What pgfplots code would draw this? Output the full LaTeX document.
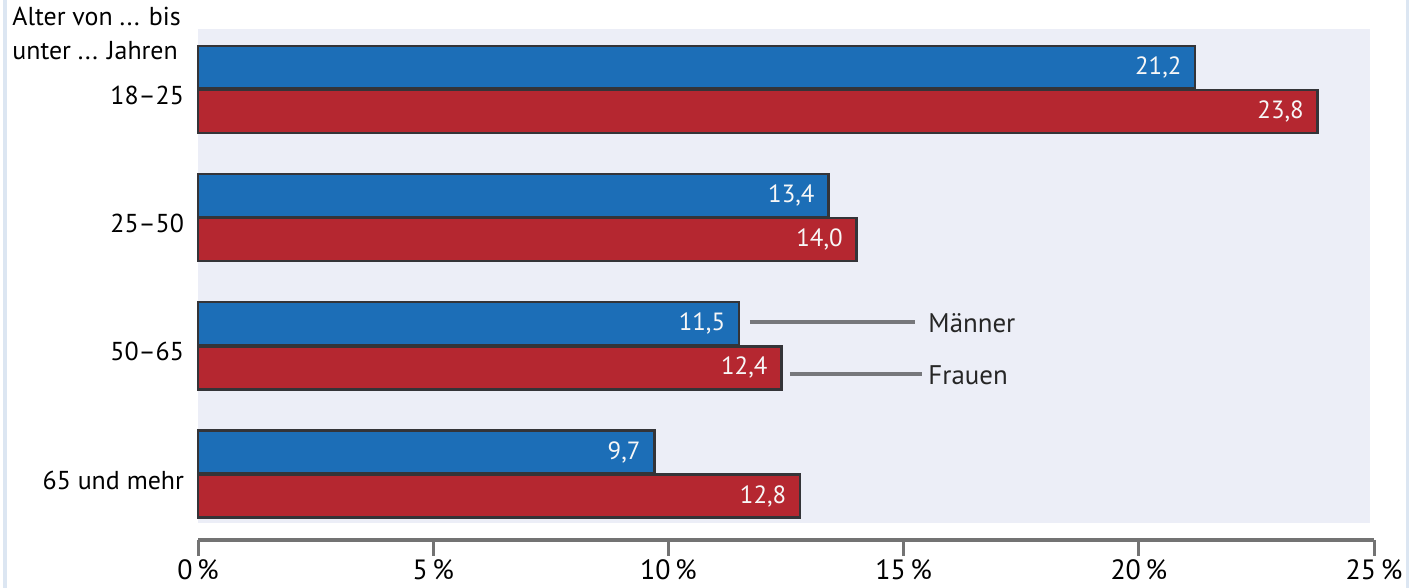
\documentclass[border=0pt]{standalone}
\usepackage{pgfplots}
\pgfplotsset{compat=1.18}
\usepackage{fontspec}
\setmainfont{PT Sans}
\definecolor{mblue}{RGB}{28,110,183}
\definecolor{fred}{RGB}{181,39,48}
\definecolor{bgl}{RGB}{236,238,247}
\definecolor{axg}{RGB}{115,115,115}
\definecolor{lead}{RGB}{118,119,123}
\definecolor{edge}{RGB}{52,52,56}
\definecolor{framec}{RGB}{220,230,242}
\begin{document}
\begin{tikzpicture}[x=0.5bp,y=0.5bp]
\useasboundingbox (0,0) rectangle (1411,588);
\draw[framec, line width=1.5bp] (5,0) -- (5,588);
\draw[framec, line width=1.5bp] (1407,0) -- (1407,588);
\node[anchor=north west, align=left, font=\fontsize{13}{17}\selectfont, inner sep=0] at (12,581) {Alter von ... bis\\unter ... Jahren};
\begin{axis}[
  at={(99bp,24bp)}, anchor=south west, scale only axis,
  width=588bp, height=255.5bp,
  xmin=0, xmax=25, ymin=-0.514, ymax=3.47,
  clip=false,
  xbar, bar width=0.335,
  /pgf/number format/assume math mode=true,
  separate axis lines,
  axis x line*=bottom, axis y line*=left,
  x axis line style={axg, line width=2bp, -},
  y axis line style={draw=none},
  xtick={0,5,10,15,20,25},
  xticklabels={0\,\%,5\,\%,10\,\%,15\,\%,20\,\%,25\,\%},
  xtick style={axg, line width=1.5bp},
  tick align=outside, major tick length=8bp,
  xticklabel style={font=\fontsize{14}{16}\selectfont, text=black, yshift=1.8bp},
  ytick={0,1,2,3},
  yticklabels={65 und mehr,50--65,25--50,18--25},
  ytick style={draw=none},
  yticklabel style={font=\fontsize{13}{15}\selectfont, text=black, yshift=-3bp, xshift=4.5bp},
  nodes near coords={\pgfmathprintnumber[use comma,fixed,fixed zerofill,precision=1]{\pgfplotspointmeta}},
  point meta=x,
  nodes near coords style={anchor=east, xshift=-3bp, font=\fontsize{12.5}{14}\selectfont, text=white!94!gray},
]
\fill[bgl] (axis cs:0,-0.382) rectangle (axis cs:24.91,3.47);
\addplot[fill=mblue, draw=edge, line width=1.2bp, bar shift=0.172] coordinates {(21.2,3) (13.4,2) (11.5,1) (9.7,0)};
\addplot[fill=fred, draw=edge, line width=1.2bp, bar shift=-0.172] coordinates {(23.8,3) (14.0,2) (12.4,1) (12.8,0)};
\draw[lead, line width=2bp] (axis cs:11.73,1.185) -- (axis cs:15.24,1.185);
\draw[lead, line width=2bp] (axis cs:12.58,0.779) -- (axis cs:15.39,0.779);
\node[anchor=west, font=\fontsize{13.5}{15}\selectfont, text=black!85, inner sep=0] at (axis cs:15.52,1.175) {Männer};
\node[anchor=west, font=\fontsize{13.5}{15}\selectfont, text=black!85, inner sep=0] at (axis cs:15.52,0.77) {Frauen};
\end{axis}
\end{tikzpicture}
\end{document}
